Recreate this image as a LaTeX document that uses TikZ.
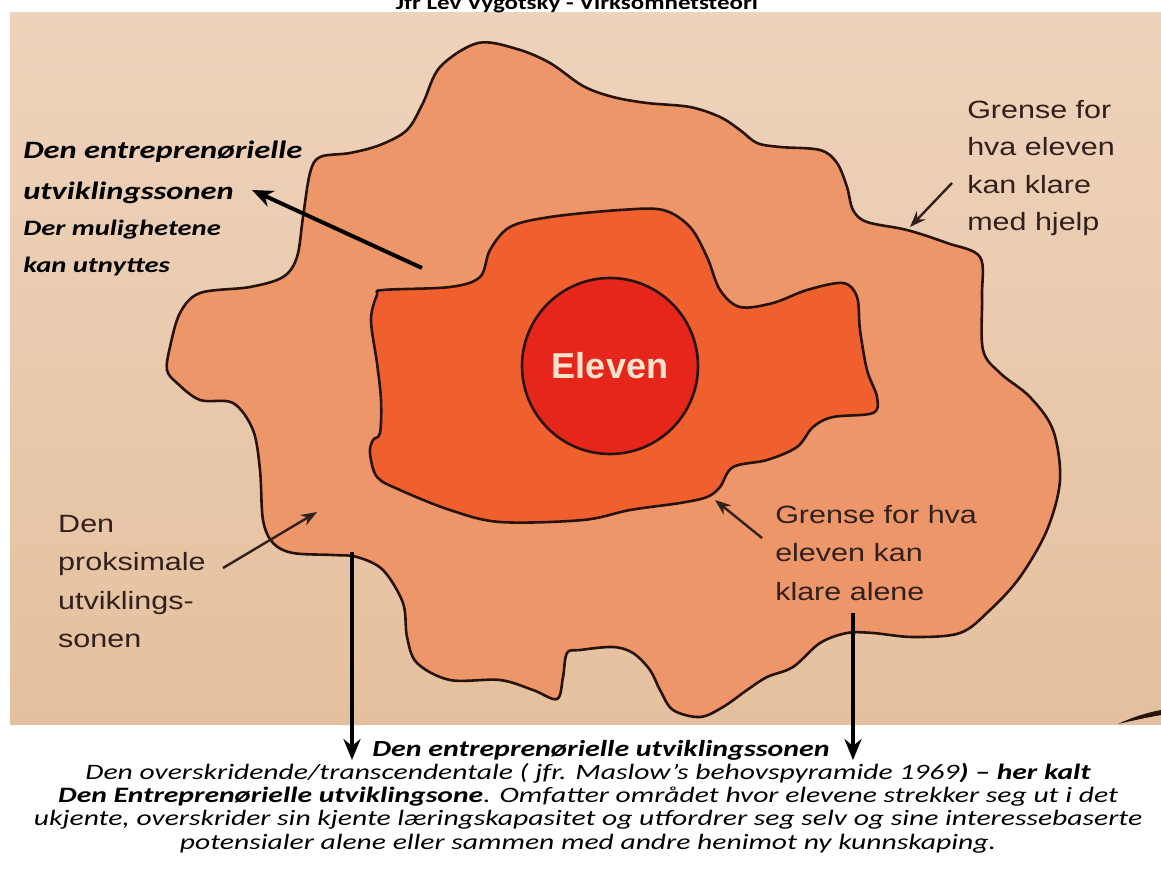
\documentclass[tikz,border=0pt]{standalone}
\usepackage{fontspec}
\setmainfont{Carlito}
\newfontfamily\bokfont{Liberation Sans}
\usetikzlibrary{arrows.meta}

\definecolor{papirlys}{RGB}{238,211,188}
\definecolor{papirmork}{RGB}{228,192,158}
\definecolor{ytresone}{RGB}{237,150,106}
\definecolor{indresone}{RGB}{239,96,46}
\definecolor{elevrod}{RGB}{230,38,26}
\definecolor{kant}{RGB}{40,18,12}
\definecolor{bokblekk}{RGB}{50,32,28}
\definecolor{elevtekst}{RGB}{250,226,204}

\begin{document}
\begin{tikzpicture}[x=1pt, y=-1pt, line join=round,
    soneomr/.style={draw=kant, line width=2.6pt},
    boktekst/.style={font=\bokfont\fontsize{25}{37.5}\selectfont, text=bokblekk, align=left, anchor=north west, inner sep=0pt, xscale=1.22},
    bokpil/.style={draw=bokblekk, line width=2.4pt, -{Stealth[length=16pt, width=12pt]}},
    skrift/.style={inner sep=0pt, xscale=1.3},
    tykkpil/.style={line width=4pt, -{Stealth[length=21pt, width=17pt]}}]
	\useasboundingbox (0,0) rectangle (1161,883);
	% fotografiet av boksiden
	\shade[top color=papirlys, bottom color=papirmork] (10,13) rectangle (1161,724);
	\fill[kant] (1118,724) .. controls (1135,716) and (1150,712) .. (1161,710) -- (1161,715) .. controls (1150,717) and (1135,720) .. (1118,724) -- cycle;
	% ytre sone
	\filldraw[soneomr, fill=ytresone] plot[smooth cycle, tension=0.55] coordinates {(478,43) (517,49) (550,63) (583,86) (613,97) (647,103) (690,107) (720,117) (740,130) (757,143) (780,147) (820,150) (837,163) (847,187) (853,210) (867,222) (907,230) (947,243) (980,257) (982,297) (983,350) (1000,373) (1030,397) (1053,430) (1060,480) (1047,530) (1020,577) (990,610) (960,633) (913,637) (873,633) (847,633) (820,643) (793,667) (767,677) (747,690) (723,707) (700,717) (673,710) (660,690) (650,670) (633,653) (613,647) (580,650) (567,653) (563,677) (557,699) (533,690) (500,680) (450,680) (417,663) (407,637) (403,603) (383,570) (357,557) (333,555) (293,553) (273,543) (263,520) (260,470) (253,430) (233,403) (200,400) (177,383) (167,370) (170,347) (180,313) (200,293) (250,287) (283,277) (297,257) (303,217) (310,173) (320,157) (350,153) (380,145) (407,130) (423,103) (440,67)};
	% indre sone
	\filldraw[soneomr, fill=indresone] plot[smooth cycle, tension=0.55] coordinates {(383,290) (450,287) (480,277) (490,250) (510,227) (550,217) (620,210) (663,210) (690,227) (707,257) (720,290) (740,307) (773,303) (807,290) (843,283) (857,297) (860,330) (867,370) (877,397) (873,413) (833,417) (813,427) (797,447) (767,460) (733,467) (720,487) (707,497) (680,503) (630,510) (583,520) (500,522) (450,510) (400,490) (377,477) (370,453) (373,440) (380,433) (381,400) (377,363) (371,320) (377,295)};
	\node[circle, minimum size=176pt, fill=elevrod, soneomr, text=elevtekst, font=\bokfont\bfseries\fontsize{36}{40}\selectfont] (elev) at (610,366) {Eleven};

	% tekster i boka
	\node[boktekst] (hjelp) at (967,100) {Grense for\\hva eleven\\kan klare\\med hjelp};
	\node[boktekst, font=\bokfont\fontsize{25}{38.3}\selectfont] (proksimal) at (58,515) {Den\\proksimale\\utviklings-\\sonen};
	\node[boktekst, font=\bokfont\fontsize{25}{38.5}\selectfont] (alene) at (775,505) {Grense for hva\\eleven kan\\klare alene};
	\coordinate (hjelphale) at (952,183);
	\coordinate (hjelpspiss) at (910,227);
	\coordinate (proksimalhale) at (223,568);
	\coordinate (proksimalspiss) at (317,512);
	\coordinate (alenehale) at (762,538);
	\coordinate (alenespiss) at (715,500);
	\draw[bokpil] (hjelphale) -- (hjelpspiss);
	\draw[bokpil] (proksimalhale) -- (proksimalspiss);
	\draw[bokpil] (alenehale) -- (alenespiss);

	% egne tekster
	\node[skrift, font=\bfseries\itshape\fontsize{25}{41}\selectfont, align=left, anchor=north west] (utvsone) at (23,141) {Den entreprenørielle\\utviklingssonen};
	\node[skrift, font=\bfseries\itshape\fontsize{22}{37}\selectfont, align=left, anchor=north west] (mulighet) at (23,220) {Der mulighetene\\kan utnyttes};
	\coordinate (utvhale) at (422,268);
	\coordinate (utvspiss) at (252,190);
	\draw[tykkpil] (utvhale) -- (utvspiss);

	\node[skrift, font=\bfseries\itshape\fontsize{23}{28}\selectfont, anchor=base] (sonetittel) at (601,756) {Den entreprenørielle utviklingssonen};
	\node[skrift, xscale=1.035, font=\itshape\fontsize{22}{23.4}\selectfont, align=center, anchor=north] (forklaring) at (588,762.5) {Den overskridende/transcendentale ( jfr. Maslow’s behovspyramide 1969\textbf{) – her kalt}\\\textbf{Den Entreprenørielle utviklingsone}. Omfatter området hvor elevene strekker seg ut i det\\ukjente, overskrider sin kjente læringskapasitet og utfordrer seg selv og sine interessebaserte\\potensialer alene eller sammen med andre henimot ny kunnskaping.};
	\coordinate (venstretopp) at (352,552);
	\coordinate (hoyretopp) at (853,613);
	\draw[tykkpil] (venstretopp) -- (venstretopp |- sonetittel.south);
	\draw[tykkpil] (hoyretopp) -- (hoyretopp |- sonetittel.south);

	\node[skrift, xscale=0.96, font=\bfseries\fontsize{20}{24}\selectfont, anchor=base] (overskrift) at (577,10) {Jfr Lev Vygotsky - Virksomhetsteori};
\end{tikzpicture}
\end{document}
